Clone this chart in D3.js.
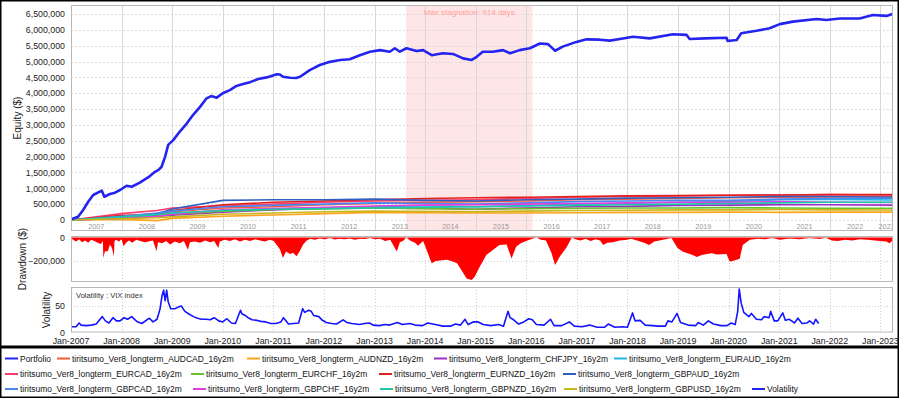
<!DOCTYPE html>
<html><head><meta charset="utf-8">
<script src="https://cdn.jsdelivr.net/npm/d3@7"></script>
<style>
body{margin:0;background:#fff;}
svg{display:block;font-family:"Liberation Sans",Arial,sans-serif;}
</style></head><body>
<svg id="c" width="900" height="399"></svg>
<script>
// ---------- DATA ----------
// Portfolio equity (decimal year, $)
const portfolioT = [2007.0,2007.01,2007.14,2007.24,2007.34,2007.44,2007.57,2007.61,2007.66,2007.77,2007.87,2007.97,2008.10,2008.20,2008.36,2008.53,2008.66,2008.73,2008.79,2008.86,2008.92,2009.02,2009.15,2009.29,2009.41,2009.55,2009.68,2009.77,2009.88,2010.0,2010.14,2010.27,2010.40,2010.54,2010.70,2010.87,2011.07,2011.13,2011.19,2011.33,2011.45,2011.53,2011.72,2011.92,2012.12,2012.32,2012.51,2012.71,2012.91,2013.11,2013.30,2013.40,2013.50,2013.63,2013.83,2013.96,2014.13,2014.35,2014.55,2014.75,2014.92,2015.02,2015.14,2015.34,2015.54,2015.68,2015.87,2016.07,2016.27,2016.43,2016.51,2016.57,2016.72,2016.99,2017.19,2017.45,2017.65,2017.85,2018.11,2018.44,2018.90,2019.17,2019.23,2019.53,2019.96,2019.98,2020.16,2020.25,2020.55,2020.81,2021.01,2021.27,2021.74,2021.93,2022.20,2022.59,2022.85,2023.12,2023.24];
const portfolioV = [0,22000,104000,315000,577000,789000,893000,924000,735000,820000,861000,946000,1080000,1050000,1180000,1350000,1520000,1580000,1680000,2000000,2370000,2520000,2790000,3050000,3310000,3570000,3840000,3910000,3860000,4000000,4100000,4230000,4290000,4350000,4450000,4500000,4600000,4590000,4520000,4490000,4480000,4520000,4730000,4890000,4990000,5050000,5070000,5200000,5310000,5360000,5310000,5420000,5310000,5420000,5330000,5360000,5200000,5260000,5240000,5100000,5050000,5150000,5310000,5310000,5360000,5260000,5360000,5420000,5570000,5550000,5430000,5340000,5470000,5620000,5700000,5690000,5660000,5710000,5780000,5730000,5860000,5840000,5710000,5730000,5750000,5650000,5680000,5890000,5970000,6050000,6180000,6260000,6340000,6310000,6360000,6360000,6470000,6440000,6500000];

// Strategies (sampled points)
const stratT = [2007,2008,2008.7,2009,2010,2011,2012,2013,2014,2015,2016,2017,2018,2019,2020,2021,2022,2023.24];
const stratNames = ["tiritsumo_Ver8_longterm_AUDCAD_16y2m","tiritsumo_Ver8_longterm_AUDNZD_16y2m","tiritsumo_Ver8_longterm_CHFJPY_16y2m","tiritsumo_Ver8_longterm_EURAUD_16y2m","tiritsumo_Ver8_longterm_EURCAD_16y2m","tiritsumo_Ver8_longterm_EURCHF_16y2m","tiritsumo_Ver8_longterm_EURNZD_16y2m","tiritsumo_Ver8_longterm_GBPAUD_16y2m","tiritsumo_Ver8_longterm_GBPCAD_16y2m","tiritsumo_Ver8_longterm_GBPCHF_16y2m","tiritsumo_Ver8_longterm_GBPNZD_16y2m","tiritsumo_Ver8_longterm_GBPUSD_16y2m"];
const sAUDCAD = [0,120,200,260,380,420,480,520,560,580,600,640,660,680,700,720,730,740].map(v=>v*1000);
const sAUDNZD = [0,20,-20,50,120,160,200,240,230,220,220,230,240,240,250,240,250,250].map(v=>v*1000);
const sCHFJPY = [0,60,110,150,250,320,380,420,380,340,380,420,430,460,470,480,480,470].map(v=>v*1000);
const sEURAUD = [0,100,150,200,300,350,380,420,450,420,450,500,520,560,580,640,650,630].map(v=>v*1000);
const sEURCAD = [0,200,300,380,450,500,560,600,620,640,680,720,740,760,780,790,800,790].map(v=>v*1000);
const sEURCHF = [0,80,140,180,280,330,350,380,360,340,360,370,380,380,390,380,370,370].map(v=>v*1000);
const sEURNZD = [0,150,160,300,480,560,600,640,680,700,720,740,760,770,780,790,800,800].map(v=>v*1000);
const sGBPAUD = [0,80,200,350,620,640,640,660,620,600,640,660,690,700,720,740,740,720].map(v=>v*1000);
const sGBPCAD = [0,120,220,280,420,460,500,540,520,500,540,580,600,620,620,660,680,690].map(v=>v*1000);
const sGBPCHF = [0,50,120,180,320,360,400,440,470,480,500,520,540,560,560,580,560,550].map(v=>v*1000);
const sGBPNZD = [0,100,170,220,300,340,360,380,400,420,440,460,480,500,520,540,560,560].map(v=>v*1000);
const sGBPUSD = [0,40,70,100,180,220,260,280,270,260,280,300,310,320,320,330,320,315].map(v=>v*1000);
const stratValues = [sAUDCAD,sAUDNZD,sCHFJPY,sEURAUD,sEURCAD,sEURCHF,sEURNZD,sGBPAUD,sGBPCAD,sGBPCHF,sGBPNZD,sGBPUSD];
const stratColors = ["#ff5a36","#ffa31a","#9a2fc4","#1fb6e6","#ff3b6b","#6cbf2a","#e0221f","#2f5fc0","#4a86f0","#e23de0","#1fc7a8","#c8b71a"];

// Drawdown (decimal year, $)
const ddT = [2007.0,2007.04,2007.10,2007.16,2007.22,2007.28,2007.34,2007.40,2007.46,2007.55,2007.59,2007.63,2007.64,2007.67,2007.73,2007.77,2007.81,2007.85,2007.86,2007.89,2007.95,2008.0,2008.04,2008.10,2008.15,2008.21,2008.29,2008.37,2008.46,2008.62,2008.69,2008.72,2008.80,2008.88,2008.96,2009.05,2009.15,2009.23,2009.31,2009.35,2009.45,2009.55,2009.65,2009.75,2009.83,2009.91,2009.94,2010.04,2010.14,2010.24,2010.34,2010.44,2010.54,2010.64,2010.74,2010.83,2010.93,2011.01,2011.06,2011.13,2011.19,2011.25,2011.33,2011.39,2011.46,2011.53,2011.59,2011.66,2011.73,2011.82,2011.92,2012.02,2012.12,2012.21,2012.31,2012.41,2012.51,2012.61,2012.71,2012.81,2012.91,2013.01,2013.11,2013.21,2013.31,2013.44,2013.50,2013.56,2013.63,2013.70,2013.80,2013.86,2013.96,2014.03,2014.13,2014.21,2014.29,2014.43,2014.52,2014.63,2014.72,2014.82,2014.92,2014.98,2015.08,2015.21,2015.34,2015.47,2015.61,2015.71,2015.80,2015.89,2016.00,2016.09,2016.20,2016.29,2016.39,2016.50,2016.57,2016.66,2016.80,2016.90,2016.97,2017.07,2017.17,2017.27,2017.37,2017.46,2017.52,2017.60,2017.71,2017.85,2017.99,2018.07,2018.19,2018.33,2018.43,2018.53,2018.63,2018.75,2018.87,2018.99,2019.09,2019.19,2019.29,2019.37,2019.47,2019.57,2019.67,2019.77,2019.96,2020.02,2020.08,2020.16,2020.22,2020.28,2020.42,2020.58,2020.72,2020.86,2021.01,2021.21,2021.40,2021.60,2021.80,2021.92,2022.04,2022.16,2022.30,2022.44,2022.59,2022.75,2022.89,2022.99,2023.12,2023.18,2023.24];
const ddV = [0,-20,-35,-15,-40,-25,-45,-20,-30,-50,-55,-30,-175,-120,-115,-60,-90,-160,-30,-20,-35,-15,-73,-40,-25,-45,-20,-30,-40,-25,-118,-40,-50,-30,-60,-35,-50,-30,-104,-40,-35,-45,-25,-40,-30,-90,-35,-20,-30,-15,-35,-20,-30,-15,-25,-35,-20,-30,-60,-100,-175,-120,-140,-130,-160,-110,-60,-25,-10,-20,-8,-15,-5,-18,-10,-15,-8,-20,-10,-12,-5,-15,-10,-30,-20,-120,-40,-30,0,-25,-45,-70,-30,-107,-220,-200,-195,-190,-200,-220,-278,-350,-363,-335,-250,-150,-107,-64,-60,-178,-79,-50,-30,-15,0,-20,-25,-135,-235,-164,-80,0,-15,-25,-10,-30,-15,-25,-64,-45,-40,-25,-20,-10,-25,-45,-64,-35,-25,-15,-5,-90,-120,-135,-150,-165,-150,-140,-135,-145,-140,-205,-200,-190,-180,-64,-20,-10,-15,-5,-20,-8,-15,-5,-12,-3,-25,-30,-20,-25,-15,-20,-25,-30,-35,-50,-25,-10].map(v=>v*1000);

// Volatility: VIX index (decimal year, value)
const vixT = [2007.0,2007.1,2007.16,2007.2,2007.3,2007.4,2007.5,2007.55,2007.62,2007.68,2007.75,2007.83,2007.9,2007.97,2008.05,2008.12,2008.2,2008.3,2008.4,2008.5,2008.55,2008.62,2008.7,2008.76,2008.8,2008.83,2008.86,2008.89,2008.92,2008.97,2009.05,2009.12,2009.18,2009.25,2009.33,2009.42,2009.5,2009.58,2009.67,2009.75,2009.83,2009.92,2010.0,2010.08,2010.17,2010.25,2010.35,2010.38,2010.45,2010.5,2010.58,2010.67,2010.75,2010.85,2010.95,2011.05,2011.15,2011.2,2011.3,2011.4,2011.5,2011.58,2011.62,2011.7,2011.75,2011.8,2011.9,2011.97,2012.05,2012.15,2012.25,2012.38,2012.45,2012.55,2012.7,2012.8,2012.9,2012.97,2013.1,2013.2,2013.3,2013.45,2013.55,2013.7,2013.8,2013.95,2014.05,2014.2,2014.35,2014.5,2014.6,2014.7,2014.79,2014.85,2014.95,2015.05,2015.15,2015.3,2015.45,2015.55,2015.64,2015.68,2015.75,2015.85,2015.95,2016.05,2016.12,2016.2,2016.35,2016.48,2016.55,2016.7,2016.85,2016.95,2017.1,2017.25,2017.4,2017.55,2017.62,2017.75,2017.9,2018.0,2018.1,2018.15,2018.25,2018.35,2018.5,2018.6,2018.75,2018.8,2018.88,2018.98,2019.05,2019.2,2019.35,2019.4,2019.5,2019.6,2019.7,2019.85,2019.97,2020.05,2020.13,2020.18,2020.21,2020.25,2020.3,2020.4,2020.45,2020.55,2020.65,2020.7,2020.8,2020.83,2020.9,2020.97,2021.07,2021.12,2021.2,2021.3,2021.37,2021.45,2021.55,2021.6,2021.68,2021.72,2021.78];
const vixV = [11,11,18,14,13,14,16,22,30,22,18,28,22,22,28,25,30,21,17,24,27,20,25,45,70,80,60,80,58,45,45,48,50,40,35,30,27,25,25,24,28,22,20,26,18,17,42,35,32,28,24,23,21,20,17,17,20,28,16,17,18,45,38,42,40,32,30,23,19,17,16,24,19,17,15,17,18,14,13,15,14,19,15,17,14,13,18,15,12,12,16,14,25,15,20,20,15,13,15,12,40,28,24,16,20,26,24,15,14,25,13,13,20,12,11,14,10,10,16,10,11,10,37,22,23,14,13,12,12,22,20,36,19,14,13,19,14,22,16,13,13,18,15,40,82,55,38,30,36,25,24,30,28,40,22,22,37,23,25,18,27,17,18,22,16,25,17];

const eqTicks = [0,500000,1000000,1500000,2000000,2500000,3000000,3500000,4000000,4500000,5000000,5500000,6000000,6500000];
const ddTicks = [0,-200000];
const vixTicks = [0,50];
const yearLabels = ["2007","2008","2009","2010","2011","2012","2013","2014","2015","2016","2017","2018","2019","2020","2021","2022","2023"];
const stagnation = {start: 2013.62, days: 914, label: "Max stagnation: 914 days"};

// ---------- CHART ----------
function dy(y){const yr=Math.floor(y+1e-9);const f=y-yr;const s=new Date(yr,0,1),e=new Date(yr+1,0,1);return new Date(+s+f*(e-s));}
const svg = d3.select("#c");
const L=71, R=893;
const x = d3.scaleTime().domain([dy(2007), dy(2023.25)]).range([L,R]);
const P1={t:5,b:231}, P2={t:236,b:282}, P3={t:287,b:332.5};
const yE = d3.scaleLinear().domain([-347000,6784000]).range([P1.b,P1.t]);
const yD = d3.scaleLinear().domain([-379000,12800]).range([P2.b,P2.t]);
const yV = d3.scaleLinear().domain([0,86]).range([P3.b,P3.t]);
const years = d3.range(2008,2024).map(y=>new Date(y,0,1));
const font = "Liberation Sans, Arial, sans-serif";

// outer frames
svg.append("rect").attr("x",0.75).attr("y",0.75).attr("width",897.5).attr("height",345.5).attr("fill","none").attr("stroke","#000").attr("stroke-width",1.5);
svg.append("rect").attr("x",0.75).attr("y",347.75).attr("width",897.5).attr("height",49.5).attr("fill","none").attr("stroke","#000").attr("stroke-width",1.5);

// clip paths
const defs=svg.append("defs");
[["c1",P1],["c2",P2],["c3",P3]].forEach(([id,p])=>{
  defs.append("clipPath").attr("id",id).append("rect").attr("x",L).attr("y",p.t).attr("width",R-L).attr("height",p.b-p.t);
});

// ---- Panel 1: equity
const g1=svg.append("g");
const sx0=x(dy(stagnation.start)), sx1=x(new Date(+dy(stagnation.start)+stagnation.days*864e5));
g1.append("rect").attr("x",sx0).attr("y",P1.t).attr("width",sx1-sx0).attr("height",P1.b-P1.t).attr("fill","#ffe6e6");
g1.selectAll(".hg").data(eqTicks).enter().append("line")
  .attr("x1",L).attr("x2",R).attr("y1",d=>Math.round(yE(d))+0.5).attr("y2",d=>Math.round(yE(d))+0.5)
  .attr("stroke","#dcdcdc").attr("stroke-dasharray","2,2");
g1.selectAll(".vg").data(years).enter().append("line")
  .attr("x1",d=>Math.round(x(d))+0.5).attr("x2",d=>Math.round(x(d))+0.5).attr("y1",P1.t).attr("y2",P1.b)
  .attr("stroke","#d8d8d8");
g1.append("text").attr("x",(sx0+sx1)/2).attr("y",15).attr("text-anchor","middle")
  .attr("font-size","8px").attr("fill","#ff9e9e").attr("font-family",font).text(stagnation.label);
// year labels inside
yearLabels.forEach((lab,i)=>{
  const a=x(dy(2007+i)), b=Math.min(R, x(dy(2008+i)));
  g1.append("text").attr("x",(a+b)/2).attr("y",229).attr("text-anchor","middle")
    .attr("font-size","7.3px").attr("fill","#9a9a9a").attr("font-family",font)
    .attr("clip-path","url(#c1)").text(lab);
});
const lineS = d3.line().x(d=>x(dy(d[0]))).y(d=>yE(d[1]));
const gl = g1.append("g").attr("clip-path","url(#c1)");
stratValues.forEach((vals,i)=>{
  gl.append("path").attr("d",lineS(stratT.map((t,j)=>[t,vals[j]])))
    .attr("fill","none").attr("stroke",stratColors[i]).attr("stroke-width",1.6);
});
gl.append("path").attr("d",lineS(portfolioT.map((t,j)=>[t,portfolioV[j]])))
  .attr("fill","none").attr("stroke","#2424f0").attr("stroke-width",2.6).attr("stroke-linejoin","round");
g1.append("rect").attr("x",L+0.5).attr("y",P1.t+0.5).attr("width",R-L-1).attr("height",P1.b-P1.t-1).attr("fill","none").attr("stroke","#b8b8b8");
g1.selectAll(".yl").data(eqTicks).enter().append("text")
  .attr("x",65).attr("y",d=>yE(d)+3.2).attr("text-anchor","end").attr("font-size","8.8px").attr("fill","#222").attr("font-family",font)
  .text(d=>d3.format(",")(d));

// ---- Panel 2: drawdown
const g2=svg.append("g");
g2.selectAll(".vg").data(years).enter().append("line")
  .attr("x1",d=>Math.round(x(d))+0.5).attr("x2",d=>Math.round(x(d))+0.5).attr("y1",P2.t).attr("y2",P2.b)
  .attr("stroke","#cfcfcf").attr("stroke-dasharray","1,2");
g2.append("line").attr("x1",L).attr("x2",R).attr("y1",Math.round(yD(-200000))+0.5).attr("y2",Math.round(yD(-200000))+0.5)
  .attr("stroke","#cfcfcf").attr("stroke-dasharray","1,2");
const area = d3.area().x(d=>x(dy(d[0]))).y0(yD(0)).y1(d=>yD(d[1]));
g2.append("path").attr("clip-path","url(#c2)").attr("d",area(ddT.map((t,j)=>[t,ddV[j]]))).attr("fill","#ff0000");
g2.append("rect").attr("x",L+0.5).attr("y",P2.t+0.5).attr("width",R-L-1).attr("height",P2.b-P2.t-1).attr("fill","none").attr("stroke","#b8b8b8");
g2.selectAll(".yl").data(ddTicks).enter().append("text")
  .attr("x",65).attr("y",d=>yD(d)+3.2).attr("text-anchor","end").attr("font-size","8.8px").attr("fill","#222").attr("font-family",font)
  .text(d=>d3.format(",")(d));

// ---- Panel 3: volatility
const g3=svg.append("g");
g3.selectAll(".vg").data(years).enter().append("line")
  .attr("x1",d=>Math.round(x(d))+0.5).attr("x2",d=>Math.round(x(d))+0.5).attr("y1",P3.t).attr("y2",P3.b)
  .attr("stroke","#cfcfcf").attr("stroke-dasharray","1,2");
g3.append("line").attr("x1",L).attr("x2",R).attr("y1",Math.round(yV(50))+0.5).attr("y2",Math.round(yV(50))+0.5)
  .attr("stroke","#cfcfcf").attr("stroke-dasharray","1,2");
const lineV = d3.line().x(d=>x(dy(d[0]))).y(d=>yV(d[1]));
g3.append("path").attr("clip-path","url(#c3)").attr("d",lineV(vixT.map((t,j)=>[t,vixV[j]])))
  .attr("fill","none").attr("stroke","#1414ff").attr("stroke-width",1.6).attr("stroke-linejoin","round");
g3.append("text").attr("x",76).attr("y",297.5).attr("font-size","7.6px").attr("fill","#333").attr("font-family",font).text("Volatility : VIX index");
g3.append("rect").attr("x",L+0.5).attr("y",P3.t+0.5).attr("width",R-L-1).attr("height",P3.b-P3.t-1).attr("fill","none").attr("stroke","#b8b8b8");
g3.selectAll(".yl").data(vixTicks).enter().append("text")
  .attr("x",65).attr("y",d=>yV(d)+3.2).attr("text-anchor","end").attr("font-size","8.8px").attr("fill","#222").attr("font-family",font)
  .text(d=>d);
// x axis labels
const xTicks = d3.range(2007,2024).map(y=>new Date(y,0,1));
svg.selectAll(".xl").data(xTicks).enter().append("text")
  .attr("x",d=>x(d)).attr("y",344).attr("text-anchor","middle").attr("font-size","8.8px").attr("fill","#222").attr("font-family",font)
  .text(d3.timeFormat("Jan-%Y"));

// axis titles
[["Equity ($)",17,118],["Drawdown ($)",22,259],["Volatility",46,310]].forEach(([t,xx,yy])=>{
  svg.append("text").attr("transform",`translate(${xx},${yy}) rotate(-90)`).attr("text-anchor","middle")
    .attr("dy","0.35em").attr("font-size","10px").attr("fill","#222").attr("font-family",font).text(t);
});

// ---- Legend
const legendRows = [
  [["Portfolio","#2424f0",5],[stratNames[0],stratColors[0],57],[stratNames[1],stratColors[1],247],[stratNames[2],stratColors[2],434],[stratNames[3],stratColors[3],614]],
  [[stratNames[4],stratColors[4],5],[stratNames[5],stratColors[5],191],[stratNames[6],stratColors[6],379],[stratNames[7],stratColors[7],563]],
  [[stratNames[8],stratColors[8],5],[stratNames[9],stratColors[9],193],[stratNames[10],stratColors[10],380],[stratNames[11],stratColors[11],564],["Volatility","#2424f0",752]]
];
const rowY=[358.5,374,389];
// calibrate legend font so a long label spans ~162px
const probe = svg.append("text").attr("font-size","10px").attr("font-family",font).text(stratNames[0]);
const legFS = 10*162/probe.node().getComputedTextLength();
probe.remove();
legendRows.forEach((row,ri)=>{
  row.forEach(([name,col,lx])=>{
    svg.append("line").attr("x1",lx).attr("x2",lx+13).attr("y1",rowY[ri]).attr("y2",rowY[ri]).attr("stroke",col).attr("stroke-width",2);
    svg.append("text").attr("x",lx+15).attr("y",rowY[ri]+3.2).attr("font-size",legFS+"px").attr("fill","#111").attr("font-family",font).text(name);
  });
});
</script>
</body></html>
